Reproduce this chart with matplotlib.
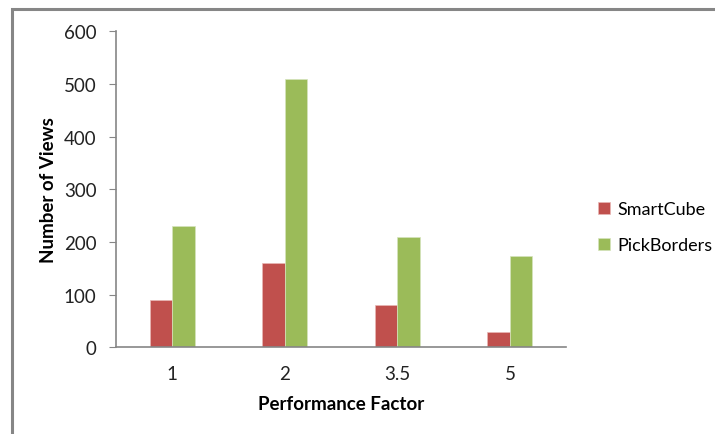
import matplotlib
matplotlib.use("Agg")
import matplotlib.pyplot as plt
from matplotlib.patches import Rectangle
import numpy as np

categories = ["1", "2", "3.5", "5"]
smartcube = [90, 160, 80, 30]
pickborders = [230, 510, 210, 173]
yticks = [0, 100, 200, 300, 400, 500, 600]

plt.rcParams['font.family'] = ['Lato', 'DejaVu Sans']

fig = plt.figure(figsize=(7.15, 4.35), dpi=100)
ax = fig.add_axes([0.162, 0.199, 0.630, 0.727])

x = np.arange(len(categories))
w = 0.2
gray = '#868686'
ax.bar(x - w/2, smartcube, w, color='#C0504D', edgecolor='#e8b8b6', linewidth=0.5, label='SmartCube')
ax.bar(x + w/2, pickborders, w, color='#9BBB59', edgecolor='#d6e4bd', linewidth=0.5, label='PickBorders')

ax.set_xlim(-0.5, len(categories) - 0.5)
ax.set_ylim(0, 600)
ax.set_yticks(yticks)
ax.set_xticks(x)
ax.set_xticklabels(categories)
ax.tick_params(axis='x', length=0, pad=13, labelsize=13.5, labelcolor='#222222')
ax.tick_params(axis='y', length=5, color=gray, pad=9, labelsize=13.5, labelcolor='#222222')
for s in ['top', 'right']:
    ax.spines[s].set_visible(False)
for s in ['left', 'bottom']:
    ax.spines[s].set_color(gray)
    ax.spines[s].set_linewidth(1.2)

ax.set_ylabel('Number of Views', fontsize=13.5, fontweight='bold', labelpad=5)
ax.set_xlabel('Performance Factor', fontsize=13.5, fontweight='bold', labelpad=9)

ax.legend(loc='center left', bbox_to_anchor=(1.058, 0.38), frameon=False,
          fontsize=13, handlelength=0.7, handleheight=0.7, handletextpad=0.4,
          labelspacing=1.1, borderaxespad=0.0, borderpad=0.3)

fig.patches.append(Rectangle((12/715, -0.1), 1.2, 1.1 - 10/435, transform=fig.transFigure,
                             fill=False, edgecolor=gray, linewidth=2.2))

fig.savefig('out.png', dpi=100)
